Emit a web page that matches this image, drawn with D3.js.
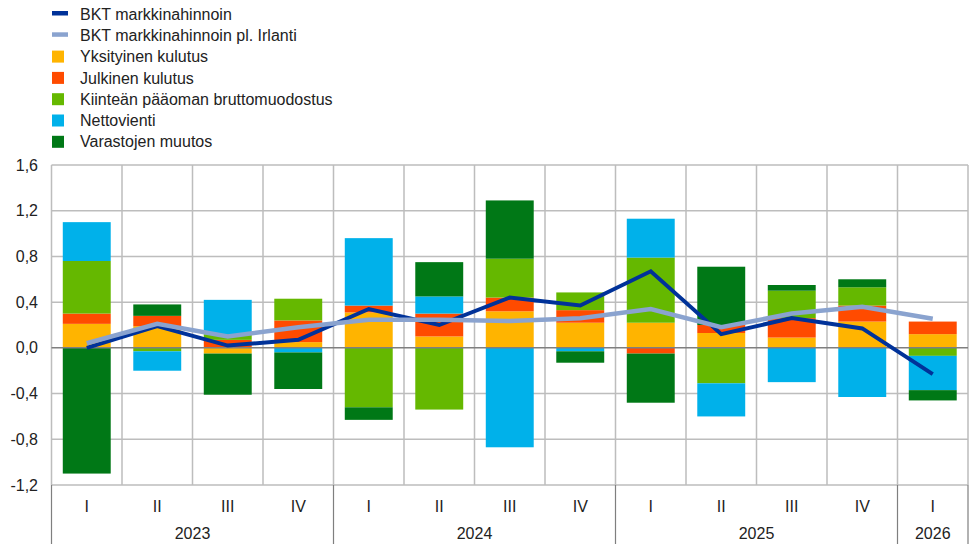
<!DOCTYPE html>
<html><head><meta charset="utf-8">
<script src="https://cdn.jsdelivr.net/npm/d3@7"></script>
<style>body{margin:0;background:#fff}svg{display:block;font-family:"Liberation Sans",Arial,sans-serif}</style>
</head><body><svg id="c" width="971" height="544"></svg>
<script>
const quarters = ["I","II","III","IV","I","II","III","IV","I","II","III","IV","I"];
const years = ["2023","2024","2025","2026"];
const yearCounts = [4,4,4,1];
const yTicks = [-1.2,-0.8,-0.4,0,0.4,0.8,1.2,1.6];
const seriesNames = ["Yksityinen kulutus","Julkinen kulutus","Kiinteän pääoman bruttomuodostus","Nettovienti","Varastojen muutos"];
const yksityinen = [0.21,0.19,-0.05,0.05,0.31,0.10,0.32,0.22,0.22,0.13,0.09,0.23,0.12];
const julkinen   = [0.09,0.09,0.07,0.19,0.06,0.20,0.12,0.11,-0.05,0.07,0.17,0.14,0.11];
const kiintea    = [0.46,-0.03,0.05,0.19,-0.52,-0.54,0.34,0.155,0.57,-0.31,0.24,0.16,-0.07];
const netto      = [0.34,-0.17,0.30,-0.04,0.59,0.15,-0.87,-0.03,0.34,-0.29,-0.30,-0.43,-0.30];
const varastot   = [-1.10,0.10,-0.36,-0.32,-0.11,0.30,0.51,-0.10,-0.43,0.51,0.05,0.07,-0.09];
const bkt        = [0.00,0.19,0.02,0.07,0.34,0.20,0.44,0.37,0.67,0.12,0.26,0.17,-0.23];
const bktExIe    = [0.04,0.21,0.10,0.18,0.245,0.245,0.235,0.26,0.34,0.18,0.30,0.36,0.255];
const lineNames = ["BKT markkinahinnoin","BKT markkinahinnoin pl. Irlanti"];

const colors = ["#FFB400","#FF4B00","#65B800","#00B1EA","#007816"];
const lineColors = ["#003299","#8aa3cf"];

const FS = 16;
const svg = d3.select("#c");
const L = 51.5, R = 968, T = 165, B = 485;
const idx = quarters.map((q,i)=>i);
const x = d3.scaleBand().domain(idx).range([L,R]).paddingInner(0.32).paddingOuter(0.16);
const y = d3.scaleLinear().domain([-1.2,1.6]).range([B,T]);
const step = x.step();

// grid
const g = svg.append("g");
g.selectAll("line.h").data(yTicks.filter(t=>t!==0)).join("line")
  .attr("x1",L).attr("x2",R).attr("y1",d=>y(d)).attr("y2",d=>y(d))
  .attr("stroke","#bdbdbd").attr("stroke-width",1.5);
const vb = d3.range(0, quarters.length+1);
g.selectAll("line.v").data(vb).join("line")
  .attr("x1",d=>L+d*step).attr("x2",d=>L+d*step).attr("y1",T).attr("y2",B)
  .attr("stroke","#bdbdbd").attr("stroke-width",1.5);

// y labels
svg.append("g").selectAll("text").data(yTicks).join("text")
  .attr("x",38).attr("y",d=>y(d)).attr("dy","0.35em").attr("text-anchor","end")
  .attr("font-size",FS).attr("fill","#222").text(d=>d3.format(".1f")(d).replace(".",",").replace("−","-"));

// bars
const rows = idx.map(i=>({i, s0:yksityinen[i], s1:julkinen[i], s2:kiintea[i], s3:netto[i], s4:varastot[i]}));
const keys = ["s0","s1","s2","s3","s4"];
const stack = d3.stack().keys(keys).offset(d3.stackOffsetDiverging)(rows);
svg.append("g").selectAll("g").data(stack).join("g").attr("fill",(d,k)=>colors[k])
  .selectAll("rect").data(d=>d).join("rect")
  .attr("x",d=>x(d.data.i)).attr("width",x.bandwidth())
  .attr("y",d=>y(Math.max(d[0],d[1]))).attr("height",d=>Math.abs(y(d[0])-y(d[1])));

// zero line
svg.append("line").attr("x1",L).attr("x2",R).attr("y1",y(0)).attr("y2",y(0))
  .attr("stroke","#7f7f7f").attr("stroke-width",1.5);

// lines
const cx = i=>x(i)+x.bandwidth()/2;
const line = d3.line().x((d,i)=>cx(i)).y(d=>y(d));
svg.append("path").datum(bkt).attr("d",line).attr("fill","none")
  .attr("stroke",lineColors[0]).attr("stroke-width",4).attr("stroke-linejoin","miter");
svg.append("path").datum(bktExIe).attr("d",line).attr("fill","none")
  .attr("stroke",lineColors[1]).attr("stroke-width",4.5).attr("stroke-linejoin","miter");

// x axis labels
svg.append("g").selectAll("text").data(quarters).join("text")
  .attr("x",(d,i)=>cx(i)).attr("y",506).attr("dy","0.35em").attr("text-anchor","middle")
  .attr("font-size",FS).attr("fill","#222").text(d=>d);
let acc = 0;
const yearPos = yearCounts.map(c=>{const s=acc; acc+=c; return [s,acc];});
svg.append("g").selectAll("text").data(years).join("text")
  .attr("x",(d,k)=>L+step*(yearPos[k][0]+yearPos[k][1])/2).attr("y",533).attr("dy","0.35em")
  .attr("text-anchor","middle").attr("font-size",FS).attr("fill","#222").text(d=>d);
const seps = [0].concat(yearPos.map(p=>p[1]));
svg.append("g").selectAll("line").data(seps).join("line")
  .attr("x1",d=>L+d*step).attr("x2",d=>L+d*step).attr("y1",B).attr("y2",544)
  .attr("stroke","#7f7f7f").attr("stroke-width",1.2);

// legend
const leg = svg.append("g");
const legItems = lineNames.map((n,k)=>({n,type:"line",c:lineColors[k]}))
  .concat(seriesNames.map((n,k)=>({n,type:"sq",c:colors[k]})));
const rowY = k=>14 + k*21.3;
legItems.forEach((d,k)=>{
  const yy = rowY(k);
  if(d.type==="line") leg.append("rect").attr("x",52).attr("y",yy-3).attr("width",16).attr("height",4.5).attr("fill",d.c);
  else leg.append("rect").attr("x",52).attr("y",yy-6).attr("width",12).attr("height",12).attr("fill",d.c);
  leg.append("text").attr("x",80).attr("y",yy).attr("dy","0.35em").attr("font-size",FS).attr("fill","#222").text(d.n);
});
</script></body></html>
